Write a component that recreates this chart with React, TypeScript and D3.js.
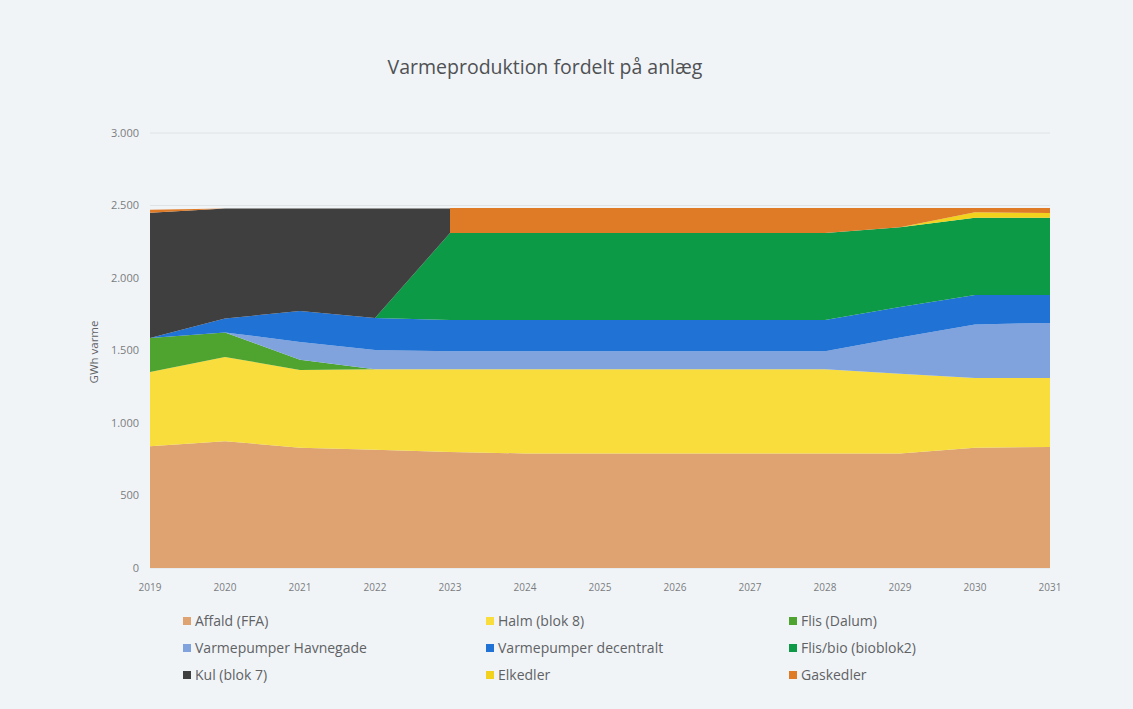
import React, { useEffect, useRef } from 'react';
import * as d3 from 'd3';

// tick labels on the x axis
const years = [2019, 2020, 2021, 2022, 2023, 2024, 2025, 2026, 2027, 2028, 2029, 2030, 2031];
// data points (2023 appears twice: kul stops and gaskedler starts in the same year)
const points = [2019, 2020, 2021, 2022, 2023, 2023, 2024, 2025, 2026, 2027, 2028, 2029, 2030, 2031];

const affald = [840, 875, 830, 815, 800, 800, 790, 790, 790, 790, 790, 790, 830, 835];
const halm = [512, 580, 536, 555, 570, 570, 580, 580, 580, 580, 580, 550, 480, 475];
const flisDalum = [235, 170, 70, 0, 0, 0, 0, 0, 0, 0, 0, 0, 0, 0];
const vpHavnegade = [0, 0, 123, 133, 125, 125, 125, 125, 125, 125, 125, 250, 370, 380];
const vpDecentralt = [0, 96, 213, 221, 215, 215, 215, 215, 215, 215, 215, 210, 203, 193];
const flisBio = [0, 0, 0, 0, 600, 600, 600, 600, 600, 600, 600, 550, 532, 532];
const kul = [863, 759, 708, 756, 170, 0, 0, 0, 0, 0, 0, 0, 0, 0];
const elkedler = [0, 0, 0, 0, 0, 0, 0, 0, 0, 0, 0, 0, 38, 33];
const gaskedler = [20, 0, 0, 0, 0, 173, 173, 173, 173, 173, 173, 133, 30, 35];

const yTicks = [0, 500, 1000, 1500, 2000, 2500, 3000];

const series = [
  { key: 'Affald (FFA)', values: affald, color: '#dfa271' },
  { key: 'Halm (blok 8)', values: halm, color: '#f9dd3d' },
  { key: 'Flis (Dalum)', values: flisDalum, color: '#4fa42f' },
  { key: 'Varmepumper Havnegade', values: vpHavnegade, color: '#80a3de' },
  { key: 'Varmepumper decentralt', values: vpDecentralt, color: '#2172d5' },
  { key: 'Flis/bio (bioblok2)', values: flisBio, color: '#0c9a47' },
  { key: 'Kul (blok 7)', values: kul, color: '#3f3f40' },
  { key: 'Elkedler', values: elkedler, color: '#f2d21c' },
  { key: 'Gaskedler', values: gaskedler, color: '#df7b27' },
];

const App: React.FC = () => {
  const chartRef = useRef<SVGSVGElement | null>(null);

  useEffect(() => {
    if (!chartRef.current) return;
    const svg = d3.select(chartRef.current);
    svg.selectAll('*').remove();

    const width = 1133;
    const height = 709;
    const font = '"Open Sans", "Liberation Sans", sans-serif';

    svg.append('rect').attr('width', width).attr('height', height).attr('fill', '#f1f4f7');

    const x = d3.scaleLinear().domain([2019, 2031]).range([150, 1050]);
    const y = d3.scaleLinear().domain([0, 3000]).range([568, 133]);

    // gridlines
    svg.append('g')
      .selectAll('line')
      .data(yTicks)
      .enter().append('line')
      .attr('x1', 150)
      .attr('x2', 1050)
      .attr('y1', d => y(d))
      .attr('y2', d => y(d))
      .attr('stroke', '#e0e2e5')
      .attr('stroke-width', 1);

    const rows = points.map((p, i) => {
      const row: Record<string, number> = { year: p };
      series.forEach(s => { row[s.key] = s.values[i]; });
      return row;
    });

    const stack = d3.stack<Record<string, number>>().keys(series.map(s => s.key));
    const stacked = stack(rows);

    const area = d3.area<d3.SeriesPoint<Record<string, number>>>()
      .x(d => x(d.data.year))
      .y0(d => y(d[0]))
      .y1(d => y(d[1]));

    svg.append('g')
      .selectAll('path')
      .data(stacked)
      .enter().append('path')
      .attr('d', d => area(d) as string)
      .attr('fill', (d, i) => series[i].color);

    // y tick labels
    svg.append('g')
      .selectAll('text')
      .data(yTicks)
      .enter().append('text')
      .attr('x', 139)
      .attr('y', d => y(d))
      .attr('dy', '0.35em')
      .attr('text-anchor', 'end')
      .attr('font-family', font)
      .attr('font-size', 11)
      .attr('fill', '#7a7d80')
      .text(d => d3.format(',')(d).replace(/,/g, '.'));

    // x tick labels
    svg.append('g')
      .selectAll('text')
      .data(years)
      .enter().append('text')
      .attr('x', d => x(d))
      .attr('y', 591)
      .attr('text-anchor', 'middle')
      .attr('font-family', font)
      .attr('font-size', 10)
      .attr('fill', '#7a7d80')
      .text(d => String(d));

    svg.append('text')
      .attr('transform', 'translate(98,352) rotate(-90)')
      .attr('text-anchor', 'middle')
      .attr('font-family', font)
      .attr('font-size', 11.5)
      .attr('fill', '#606366')
      .text('GWh varme');

    svg.append('text')
      .attr('x', 545)
      .attr('y', 74)
      .attr('text-anchor', 'middle')
      .attr('font-family', font)
      .attr('font-size', 19.5)
      .attr('fill', '#4f5154')
      .text('Varmeproduktion fordelt på anlæg');

    // legend, 3 columns
    const colX = [183, 486, 789];
    const rowY = [621, 648, 675];
    const legend = svg.append('g')
      .selectAll('g')
      .data(series)
      .enter().append('g')
      .attr('transform', (d, i) => `translate(${colX[i % 3]},${rowY[Math.floor(i / 3)]})`);

    legend.append('rect')
      .attr('x', 0)
      .attr('y', -4)
      .attr('width', 8)
      .attr('height', 8)
      .attr('fill', d => d.color);

    legend.append('text')
      .attr('x', 12)
      .attr('dy', '0.35em')
      .attr('font-family', font)
      .attr('font-size', 14)
      .attr('fill', '#5f6265')
      .text(d => d.key);
  }, []);

  return (
    <svg ref={chartRef} width="1133" height="709" style={{ position: 'absolute', left: 0, top: 0 }}></svg>
  );
};

export default App;
